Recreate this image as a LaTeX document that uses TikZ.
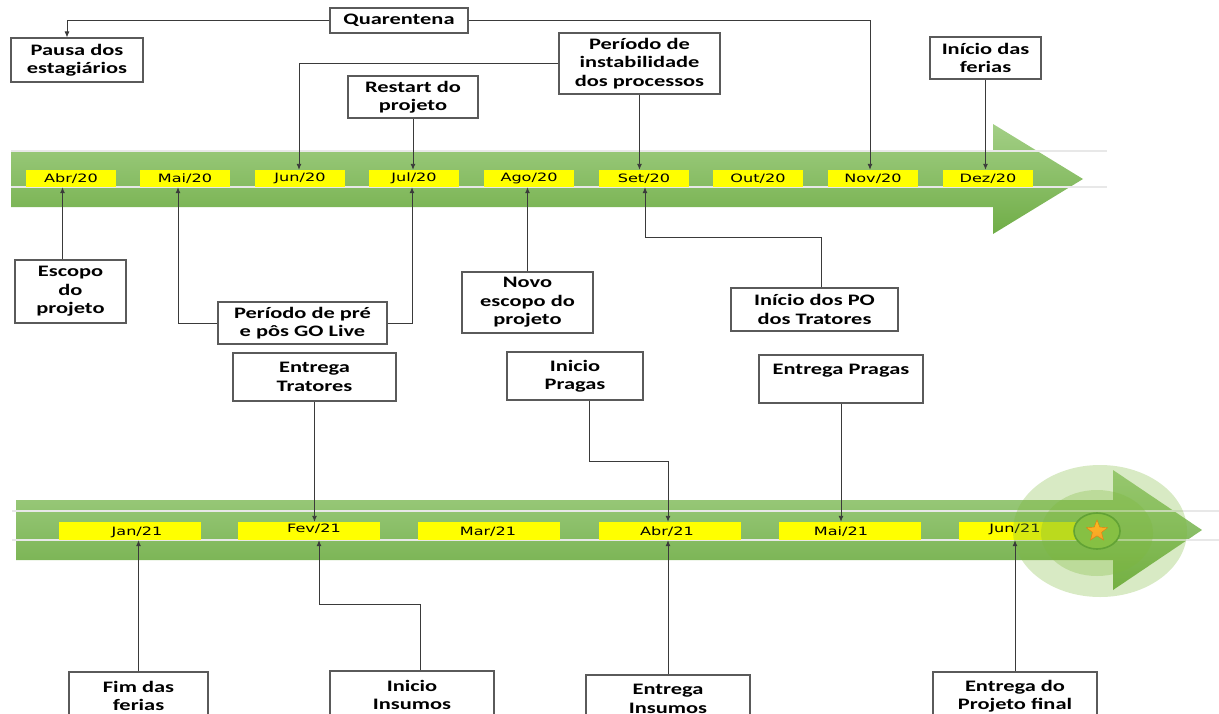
\documentclass[tikz,border=0pt]{standalone}
\usepackage{fontspec}
\usetikzlibrary{arrows.meta,shapes.geometric}
\newfontfamily\labelfont{Carlito}[FakeStretch=1.4]
\newfontfamily\monthfont{DejaVu Sans}[FakeStretch=1.4]
\definecolor{bandgreen}{HTML}{70AD47}
\definecolor{bandlight}{HTML}{A3CF86}
\definecolor{monthyellow}{HTML}{FFFF00}
\definecolor{linegray}{HTML}{3A3A3A}
\definecolor{boxgray}{HTML}{5A5A5A}
\definecolor{glowgreen}{HTML}{7DB83A}
\definecolor{ringgreen}{HTML}{62A235}
\definecolor{dotgreen}{HTML}{86C043}
\definecolor{staror}{HTML}{F9A02A}
\definecolor{stardark}{HTML}{E07A10}
\tikzset{
  event/.style={draw=boxgray, line width=1.1pt, fill=white, inner sep=0pt,
    align=center, text=black,
    font=\labelfont\bfseries\fontsize{16}{18.5}\selectfont},
  monthtop/.style={fill=monthyellow, minimum width=90pt, minimum height=17pt,
    inner sep=0pt, font=\monthfont\fontsize{11.5}{13}\selectfont},
  monthbot/.style={fill=monthyellow, minimum width=142pt, minimum height=18pt,
    inner sep=0pt},
  monthtext/.style={inner sep=0pt, font=\monthfont\fontsize{11.5}{13}\selectfont},
  conn/.style={draw=linegray, line width=0.9pt, -{Latex[length=6pt,width=5pt]}},
  railline/.style={draw=white!82!gray, line width=1.3pt},
  timeline/.style={top color=bandlight, middle color=bandgreen, bottom color=bandgreen},
}
\begin{document}
\begin{tikzpicture}[x=1pt, y=-1pt]
\useasboundingbox (0,0) rectangle (1219,713);
\clip (0,0) rectangle (1219,713);

% 2020 timeline arrow
\path[timeline] (11,151) -- (993,151) -- (993,124) -- (1083,179) -- (993,234)
  -- (993,207) -- (11,207) -- cycle;
\draw[railline] (11,151) -- (1107,151);
\draw[railline] (11,187) -- (1107,187);

% 2021 timeline arrow
\path[timeline] (16,500) -- (1113,500) -- (1113,470) -- (1202,530) -- (1113,590)
  -- (1113,560) -- (16,560) -- cycle;
\draw[railline] (12,511) -- (1219,511);
\draw[railline] (12,540) -- (1219,540);

% months 2020
\node[monthtop] (abr20) at (71,178.5) {Abr/20};
\node[monthtop] (mai20) at (185,178.5) {Mai/20};
\node[monthtop] (jun20) at (300,178.5) {Jun/20};
\node[monthtop] (jul20) at (414,178.5) {Jul/20};
\node[monthtop] (ago20) at (529,178.5) {Ago/20};
\node[monthtop] (set20) at (644,178.5) {Set/20};
\node[monthtop] (out20) at (758,178.5) {Out/20};
\node[monthtop] (nov20) at (873,178.5) {Nov/20};
\node[monthtop] (dez20) at (988,178.5) {Dez/20};

% months 2021
\node[monthbot] (jan21) at (130,531) {};
\node[monthbot] (fev21) at (309,531) {};
\node[monthbot] (mar21) at (489,531) {};
\node[monthbot] (abr21) at (670,531) {};
\node[monthbot] (mai21) at (850,531) {};
\node[monthbot] (jun21) at (1030,531) {};
\node[monthtext] (tjan21) at (137,532) {Jan/21};
\node[monthtext] (tfev21) at (314,529) {Fev/21};
\node[monthtext] (tmar21) at (488,532) {Mar/21};
\node[monthtext] (tabr21) at (667,532) {Abr/21};
\node[monthtext] (tmai21) at (841,532) {Mai/21};
\node[monthtext] (tjun21) at (1015,529) {Jun/21};

% finish mark with glow
\fill[glowgreen, opacity=0.3] (1100,531) ellipse [x radius=87, y radius=66];
\fill[glowgreen, opacity=0.3] (1097,533) ellipse [x radius=56, y radius=43];
\node[draw=ringgreen, line width=1.6pt, fill=dotgreen, ellipse,
  minimum width=46pt, minimum height=36pt, inner sep=0pt] (goal) at (1097,531) {};
\node[star, star points=5, star point ratio=2.3, minimum size=22pt, inner sep=0pt,
  top color=staror!70!yellow, bottom color=staror, draw=stardark, line width=0.4pt]
  (goalstar) at (1097,531) {};

% events 2020
\node[event, minimum width=138pt, minimum height=25pt] (quar) at (399,20.5) {Quarentena};
\node[event, minimum width=132pt, minimum height=44pt] (pausa) at (77,60) {Pausa dos\\estagiários};
\node[event, minimum width=130pt, minimum height=42pt] (restart) at (413,97) {Restart do\\projeto};
\node[event, minimum width=161pt, minimum height=61pt] (instab) at (639.5,63.5) {Período de\\instabilidade\\dos processos};
\node[event, minimum width=111pt, minimum height=42pt] (ferias) at (985.5,58) {Início das\\ferias};
\node[event, minimum width=111pt, minimum height=63pt] (escopo) at (70.5,291.5) {Escopo\\do\\projeto};
\node[event, minimum width=169pt, minimum height=42pt] (golive) at (302.5,323) {Período de pré\\e pôs GO Live};
\node[event, minimum width=131pt, minimum height=61pt] (novo) at (527.5,302.5) {Novo\\escopo do\\projeto};
\node[event, minimum width=167pt, minimum height=43pt] (po) at (814.5,309.5) {Início dos PO\\dos Tratores};

% events 2021
\node[event, minimum width=163pt, minimum height=48pt] (etrat) at (314.5,377) {Entrega\\Tratores};
\node[event, minimum width=136pt, minimum height=48pt] (ipragas) at (575,376) {Inicio\\Pragas};
\node[event, minimum width=164pt, minimum height=48pt] (epragas) at (841,379) {Entrega Pragas\\~};
\node[event, minimum width=139pt, minimum height=48pt] (fim) at (138.5,696) {Fim das\\ferias};
\node[event, minimum width=164pt, minimum height=48pt] (iins) at (412,695) {Inicio\\Insumos};
\node[event, minimum width=164pt, minimum height=48pt] (eins) at (668,699) {Entrega\\Insumos};
\node[event, minimum width=164pt, minimum height=48pt] (eproj) at (1015,696) {Entrega do\\Projeto final};

% connectors 2020
\draw[conn] (quar.west) -| ([xshift=-10pt]pausa.north);
\draw[conn] (quar.east) -| ([xshift=-3pt]nov20.north);
\draw[conn] (instab.west) -| ([xshift=-1pt]jun20.north);
\draw[conn] (instab.south) -- (instab.south |- set20.north);
\draw[conn] (restart.south) -- (restart.south |- jul20.north);
\draw[conn] (ferias.south) -- (ferias.south |- dez20.north);
\coordinate (escopotop) at ([xshift=-8pt]escopo.north);
\draw[conn] (escopotop) -- (escopotop |- abr20.south);
\draw[conn] (golive.west) -| ([xshift=-7pt]mai20.south);
\draw[conn] (golive.east) -| ([xshift=-2pt]jul20.south);
\draw[conn] (novo.north) -- (novo.north |- ago20.south);
\coordinate (potop) at ([xshift=6.5pt]po.north);
\draw[conn] (potop) -- ++(0,-50) -| ([xshift=1pt]set20.south);

% connectors 2021
\draw[conn] (etrat.south) -- (etrat.south |- fev21.north);
\coordinate (ipbottom) at ([xshift=14pt]ipragas.south);
\draw[conn] (ipbottom) -- ++(0,61) -| ([xshift=-2pt]abr21.north);
\draw[conn] (epragas.south) -- (epragas.south |- mai21.north);
\draw[conn] (fim.north) -- (fim.north |- jan21.south);
\coordinate (iitop) at ([xshift=8pt]iins.north);
\draw[conn] (iitop) -- ++(0,-66) -| ([xshift=10pt]fev21.south);
\draw[conn] (eins.north) -- (eins.north |- abr21.south);
\draw[conn] (eproj.north) -- (eproj.north |- jun21.south);
\end{tikzpicture}
\end{document}
